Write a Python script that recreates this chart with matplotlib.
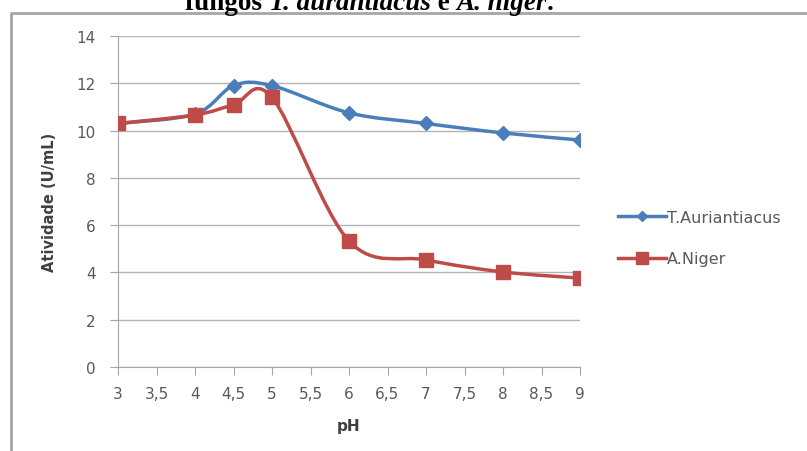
import numpy as np
import matplotlib.pyplot as plt
from matplotlib.path import Path
from matplotlib.patches import PathPatch
from matplotlib.lines import Line2D

plt.rcParams['font.family'] = ['DejaVu Sans']

# dados
ph = [3, 4, 4.5, 5, 6, 7, 8, 9]
t_aur = [10.3, 10.7, 11.9, 11.9, 10.75, 10.3, 9.9, 9.6]
a_nig = [10.3, 10.66, 11.08, 11.4, 5.33, 4.53, 4.02, 3.76]
x_ticks = [3, 3.5, 4, 4.5, 5, 5.5, 6, 6.5, 7, 7.5, 8, 8.5, 9]
y_ticks = [0, 2, 4, 6, 8, 10, 12, 14]

blue = '#4A7EBB'
red = '#BE4B48'
gray_txt = '#595959'


def smooth_path(x, y):
    # curva suavizada tipo Excel (Bezier com pontos de controle Catmull-Rom)
    p = np.column_stack([x, y]).astype(float)
    pts = np.vstack([p[0], p, p[-1]])
    verts = [p[0]]
    codes = [Path.MOVETO]
    for i in range(1, len(pts) - 2):
        c1 = pts[i] + (pts[i + 1] - pts[i - 1]) / 6
        c2 = pts[i + 1] - (pts[i + 2] - pts[i]) / 6
        verts += [c1, c2, pts[i + 1]]
        codes += [Path.CURVE4] * 3
    return Path(verts, codes)


fig = plt.figure(figsize=(8.07, 4.52), dpi=100)
ax = fig.add_axes([118 / 807, 1 - 368 / 452, 462 / 807, 331 / 452])

# moldura do gráfico (só as bordas esquerda e superior aparecem)
fig.add_artist(Line2D([11 / 807, 11 / 807, 1.0], [0.0, 1 - 14 / 452, 1 - 14 / 452],
                      transform=fig.transFigure, color='#A6A6A6', linewidth=2))

ax.add_patch(PathPatch(smooth_path(ph, t_aur), fill=False, edgecolor=blue, linewidth=2.5, zorder=3))
ax.plot(ph, t_aur, linestyle='none', marker='D', markersize=7, color=blue, zorder=4)
ax.add_patch(PathPatch(smooth_path(ph, a_nig), fill=False, edgecolor=red, linewidth=2.5, zorder=5))
ax.plot(ph, a_nig, linestyle='none', marker='s', markersize=10, color=red, zorder=6)

ax.set_xlim(3, 9)
ax.set_ylim(0, 14)
ax.set_xticks(x_ticks)
ax.set_xticklabels([str(v).replace('.', ',') for v in x_ticks])
ax.set_yticks(y_ticks)
ax.grid(axis='y', color='#B3B3B3', linewidth=1)
ax.set_axisbelow(True)
for s in ['top', 'right']:
    ax.spines[s].set_visible(False)
for s in ['left', 'bottom']:
    ax.spines[s].set_color('#A6A6A6')
ax.tick_params(direction='out', length=6, color='#A6A6A6', labelsize=11, labelcolor=gray_txt)
ax.tick_params(axis='y', pad=10)
ax.tick_params(axis='x', pad=8)
ax.set_xlabel('pH', fontsize=11, fontweight='bold', color='#404040', labelpad=12)
ax.set_ylabel('Atividade (U/mL)', fontsize=10.5, fontweight='bold', color='#404040', labelpad=14)

handles = [Line2D([], [], color=blue, linewidth=2.5, marker='D', markersize=5),
           Line2D([], [], color=red, linewidth=2.5, marker='s', markersize=8)]
fig.legend(handles, ['T.Auriantiacus', 'A.Niger'], loc='center left',
           bbox_to_anchor=(604 / 807, 1 - 239 / 452), frameon=False, fontsize=11.5,
           handlelength=3, handletextpad=0.05, labelspacing=1.65, labelcolor=gray_txt)

# título cortado no topo (como na figura original)
parts = [('fungos ', 'normal'), ('T. aurantiacus', 'italic'), (' e ', 'normal'),
         ('A. niger', 'italic'), ('.', 'normal')]
fig.canvas.draw()
renderer = fig.canvas.get_renderer()
xpos = 185
for txt, style in parts:
    t = fig.text(xpos / 807, 1 - 10.5 / 452, txt, family='Liberation Serif', fontweight='bold',
                 fontstyle=style, fontsize=19.5, color='black', va='baseline', ha='left')
    xpos += t.get_window_extent(renderer).width

fig.savefig('out.png', dpi=100)
